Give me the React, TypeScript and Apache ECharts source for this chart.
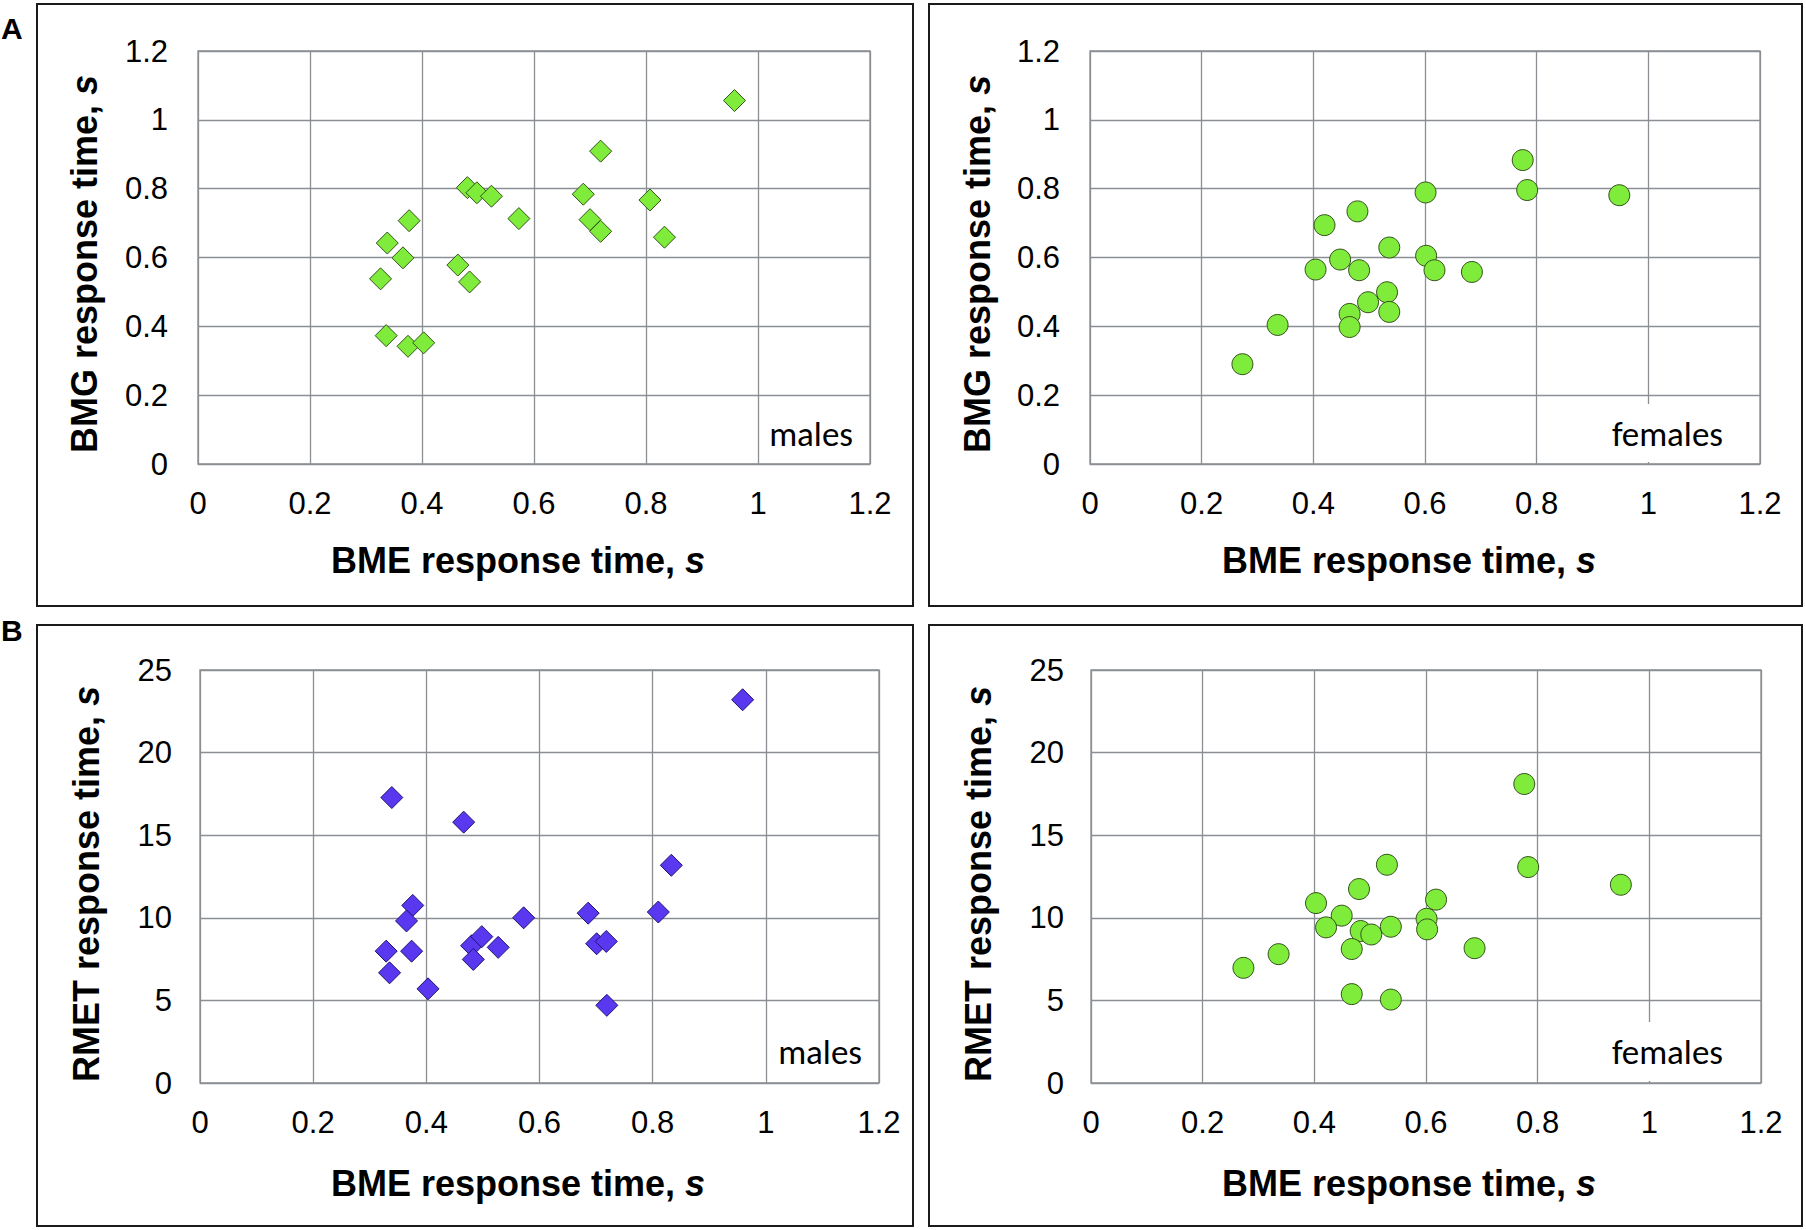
import React, { useEffect, useRef } from "react";
import * as echarts from "echarts";

// ---------- data ----------
const X_TICKS = [0, 0.2, 0.4, 0.6, 0.8, 1, 1.2];
const BMG_TICKS = [0, 0.2, 0.4, 0.6, 0.8, 1, 1.2];
const RMET_TICKS = [0, 5, 10, 15, 20, 25];

const malesBmeA = [0.958, 0.719, 0.481, 0.498, 0.524, 0.573, 0.688, 0.7, 0.719, 0.807, 0.833, 0.377, 0.338, 0.366, 0.326, 0.464, 0.485, 0.336, 0.375, 0.403];
const malesBmg = [1.056, 0.909, 0.803, 0.788, 0.778, 0.713, 0.784, 0.71, 0.676, 0.767, 0.659, 0.707, 0.642, 0.599, 0.538, 0.578, 0.529, 0.373, 0.342, 0.352];

const femalesBmeA = [0.775, 0.783, 0.948, 0.601, 0.479, 0.42, 0.536, 0.448, 0.602, 0.404, 0.482, 0.617, 0.684, 0.532, 0.498, 0.465, 0.536, 0.465, 0.336, 0.273];
const femalesBmg = [0.883, 0.796, 0.781, 0.789, 0.734, 0.694, 0.629, 0.594, 0.605, 0.565, 0.563, 0.563, 0.558, 0.499, 0.47, 0.436, 0.442, 0.398, 0.404, 0.29];

const malesBmeB = [0.959, 0.339, 0.466, 0.833, 0.81, 0.686, 0.572, 0.376, 0.365, 0.329, 0.374, 0.335, 0.403, 0.48, 0.498, 0.527, 0.483, 0.701, 0.718, 0.719];
const malesRmet = [23.2, 17.28, 15.79, 13.18, 10.35, 10.28, 10.0, 10.75, 9.81, 7.98, 7.98, 6.67, 5.7, 8.31, 8.86, 8.21, 7.48, 8.43, 8.57, 4.7];

const femalesBmeB = [0.776, 0.783, 0.949, 0.53, 0.48, 0.618, 0.403, 0.449, 0.601, 0.602, 0.421, 0.537, 0.483, 0.502, 0.467, 0.687, 0.336, 0.273, 0.467, 0.537];
const femalesRmet = [18.1, 13.07, 12.0, 13.21, 11.74, 11.1, 10.89, 10.13, 9.94, 9.3, 9.42, 9.46, 9.2, 8.99, 8.11, 8.16, 7.8, 6.97, 5.38, 5.05];

const X_TITLE = "BME response time, ";
const BMG_TITLE = "BMG response time, ";
const RMET_TITLE = "RMET response time, ";
const UNIT = "s";
const MALES = "males";
const FEMALES = "females";

// ---------- styles ----------
const FONT = "'Liberation Sans', Arial, Helvetica, sans-serif";
const NOTE_FONT = "Carlito, Lato, 'Open Sans', sans-serif";
const GRID_COLOR = "#8b8e93";
const GREEN = "#7fec3c";
const GREEN_EDGE = "#34521a";
const BLUE = "#5a38f0";
const BLUE_EDGE = "#1e1470";

const pair = (xs: number[], ys: number[]) => xs.map((x, i) => [x, ys[i]]);
const fmt = (v: number) => String(Math.round(v * 100) / 100);

function valueAxis(gridIndex: number, ticks: number[], margin: number) {
  return {
    type: "value",
    gridIndex,
    min: ticks[0],
    max: ticks[ticks.length - 1],
    interval: ticks[1] - ticks[0],
    axisLine: { show: false },
    axisTick: { show: false },
    splitLine: { show: true, lineStyle: { color: GRID_COLOR, width: 1.3 } },
    axisLabel: { margin, fontSize: 31, color: "#000", fontFamily: FONT, formatter: fmt },
  };
}

function titleText(text: string, x: number, y: number, vertical: boolean) {
  return {
    type: "text",
    x,
    y,
    rotation: vertical ? Math.PI / 2 : 0,
    z: 10,
    style: {
      text: `{b|${text}}{i|${UNIT}}`,
      align: "center",
      textAlign: "center",
      verticalAlign: "middle",
      textVerticalAlign: "middle",
      rich: {
        b: { fontSize: 36, fontWeight: "bold", fontFamily: FONT, fill: "#000", color: "#000" },
        i: { fontSize: 36, fontWeight: "bold", fontStyle: "italic", fontFamily: FONT, fill: "#000", color: "#000" },
      },
    },
  };
}

function plainText(text: string, x: number, y: number, align: string, fontSize: number, fontFamily: string, bold: boolean) {
  return {
    type: "text",
    x,
    y,
    z: 12,
    style: {
      text,
      align,
      textAlign: align,
      verticalAlign: "middle",
      textVerticalAlign: "middle",
      fontSize,
      fontFamily,
      fontWeight: bold ? "bold" : "normal",
      fill: "#000",
    },
  };
}

function box(x: number, y: number, w: number, h: number) {
  return {
    type: "rect",
    shape: { x, y, width: w, height: h },
    z: 5,
    style: { fill: "none", stroke: "#1a1a1a", lineWidth: 2 },
  };
}

export default function App() {
  const ref = useRef<HTMLDivElement>(null);

  useEffect(() => {
    if (!ref.current) return;
    const chart = echarts.init(ref.current, undefined, { renderer: "svg" });

    const grids = [
      { left: 198, top: 51, width: 672, height: 413 },
      { left: 1090, top: 51, width: 670, height: 413 },
      { left: 200, top: 670, width: 679, height: 413 },
      { left: 1091, top: 670, width: 670, height: 413 },
    ].map((g) => ({ ...g, show: true, borderColor: GRID_COLOR, borderWidth: 1.3, backgroundColor: "transparent" }));

    const option: any = {
      animation: false,
      backgroundColor: "#ffffff",
      grid: grids,
      xAxis: [0, 1, 2, 3].map((i) => valueAxis(i, X_TICKS, 24)),
      yAxis: [
        valueAxis(0, BMG_TICKS, 30),
        valueAxis(1, BMG_TICKS, 30),
        valueAxis(2, RMET_TICKS, 28),
        valueAxis(3, RMET_TICKS, 27),
      ],
      series: [
        {
          type: "scatter", xAxisIndex: 0, yAxisIndex: 0, symbol: "diamond", symbolSize: 22,
          itemStyle: { color: GREEN, borderColor: GREEN_EDGE, borderWidth: 1, opacity: 1 },
          data: pair(malesBmeA, malesBmg),
        },
        {
          type: "scatter", xAxisIndex: 1, yAxisIndex: 1, symbol: "circle", symbolSize: 21,
          itemStyle: { color: GREEN, borderColor: GREEN_EDGE, borderWidth: 1, opacity: 1 },
          data: pair(femalesBmeA, femalesBmg),
        },
        {
          type: "scatter", xAxisIndex: 2, yAxisIndex: 2, symbol: "diamond", symbolSize: 22,
          itemStyle: { color: BLUE, borderColor: BLUE_EDGE, borderWidth: 1, opacity: 1 },
          data: pair(malesBmeB, malesRmet),
        },
        {
          type: "scatter", xAxisIndex: 3, yAxisIndex: 3, symbol: "circle", symbolSize: 21,
          itemStyle: { color: GREEN, borderColor: GREEN_EDGE, borderWidth: 1, opacity: 1 },
          data: pair(femalesBmeB, femalesRmet),
        },
      ],
      graphic: [
        box(37, 4, 876, 602),
        box(929, 4, 873, 602),
        box(37, 625, 876, 601),
        box(929, 625, 873, 601),
        // white patches behind the "females" notes
        { type: "rect", z: 11, shape: { x: 1597, y: 404, width: 138, height: 58 }, style: { fill: "#fff" } },
        { type: "rect", z: 11, shape: { x: 1597, y: 1022, width: 138, height: 59 }, style: { fill: "#fff" } },
        plainText(MALES, 853, 434, "right", 35, NOTE_FONT, false),
        plainText(FEMALES, 1723, 434, "right", 35, NOTE_FONT, false),
        plainText(MALES, 862, 1052, "right", 35, NOTE_FONT, false),
        plainText(FEMALES, 1723, 1052, "right", 35, NOTE_FONT, false),
        plainText("A", 1, 28, "left", 30, FONT, true),
        plainText("B", 1, 630, "left", 30, FONT, true),
        titleText(X_TITLE, 518, 560, false),
        titleText(X_TITLE, 1409, 560, false),
        titleText(X_TITLE, 518, 1183, false),
        titleText(X_TITLE, 1409, 1183, false),
        titleText(BMG_TITLE, 84, 264, true),
        titleText(BMG_TITLE, 977, 264, true),
        titleText(RMET_TITLE, 86, 884, true),
        titleText(RMET_TITLE, 978, 884, true),
      ],
    };

    chart.setOption(option);
    return () => chart.dispose();
  }, []);

  return (
    <div
      ref={ref}
      style={{ position: "absolute", left: 0, top: 0, width: 1806, height: 1230, background: "#fff" }}
    />
  );
}
